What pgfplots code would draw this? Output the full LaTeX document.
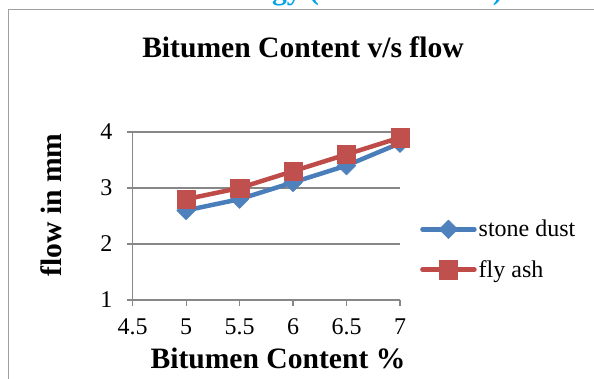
\documentclass[border=0pt]{standalone}
\usepackage{fontspec}
\setmainfont{Liberation Serif}
\usepackage{pgfplots}
\pgfplotsset{compat=1.18}

\definecolor{sdblue}{HTML}{4A7EBB}
\definecolor{sdbluemark}{HTML}{4F81BD}
\definecolor{fared}{HTML}{BE4B48}
\definecolor{faredmark}{HTML}{C0504D}
\definecolor{axisgray}{HTML}{878787}
\definecolor{framegray}{HTML}{A0A0A0}
\definecolor{headcyan}{HTML}{00A2E8}

\begin{document}
\begin{tikzpicture}[x=1pt,y=1pt]
\useasboundingbox (0,0) rectangle (594,379);

% page heading running off the top edge
\node[anchor=base east, text=headcyan, inner sep=0pt,
      font=\fontsize{29.6}{34}\selectfont\bfseries] at (503,379.5) {Methodology (Marshall Test)};

% chart frame
\draw[framegray, line width=1.4pt] (8.5,0) -- (8.5,369.5) -- (600,369.5);

% title and axis titles
\node[anchor=base, inner sep=0pt, font=\fontsize{29.6}{34}\selectfont\bfseries]
  at (303,321) {Bitumen Content v/s flow};
\node[anchor=base, inner sep=0pt, font=\fontsize{29.6}{34}\selectfont\bfseries]
  at (278,10) {Bitumen Content \%};
\node[anchor=base, rotate=90, inner sep=0pt, font=\fontsize{29.6}{34}\selectfont\bfseries]
  at (61.5,174) {flow in mm};

\begin{axis}[
  scale only axis,
  width=267.4pt, height=168pt,
  at={(132.6pt,79pt)}, anchor=south west,
  xmin=4.5, xmax=7, ymin=1, ymax=4,
  xtick={4.5,5,5.5,6,6.5,7},
  ytick={1,2,3,4},
  axis x line*=bottom, axis y line*=left,
  axis line style={axisgray, line width=1.3pt, -},
  ymajorgrids,
  grid style={axisgray, line width=1.1pt},
  tick align=outside,
  major tick length=6pt,
  tick style={axisgray, line width=1.1pt},
  /pgf/number format/assume math mode=true,
  xticklabel={\pgfmathprintnumber{\tick}},
  yticklabel={\pgfmathprintnumber{\tick}},
  tick label style={font=\rmfamily\fontsize{24}{28}\selectfont},
  xticklabel style={inner sep=0pt, anchor=base, yshift=-28.5pt},
  yticklabel style={inner sep=0pt, xshift=-14pt},
  clip=false,
  legend style={
    at={(1.0748,0.3006)}, anchor=west,
    draw=none, fill=none, inner sep=0pt,
    font=\rmfamily\fontsize{24}{28}\selectfont,
    row sep=18pt,
    /tikz/every even column/.append style={column sep=4pt},
  },
  legend cell align=left,
  legend image code/.code={
    \draw[mark repeat=2, mark phase=2, line cap=round, #1]
      plot coordinates {(0pt,0pt) (26pt,0pt) (52pt,0pt)};
  },
]
\addplot[sdblue, line width=4.5pt, line join=round,
  mark=square*, mark size=6.6pt,
  mark options={solid, rotate=45, fill=sdbluemark, draw=sdbluemark, line width=0.5pt}]
  coordinates {(5,2.6) (5.5,2.8) (6,3.1) (6.5,3.4) (7,3.8)};
\addlegendentry{stone dust}

\addplot[fared, line width=4.5pt, line join=round,
  mark=square*, mark size=9.2pt,
  mark options={solid, fill=faredmark, draw=faredmark, line width=0.5pt}]
  coordinates {(5,2.8) (5.5,3.0) (6,3.3) (6.5,3.6) (7,3.9)};
\addlegendentry{fly ash}
\end{axis}
\end{tikzpicture}
\end{document}
